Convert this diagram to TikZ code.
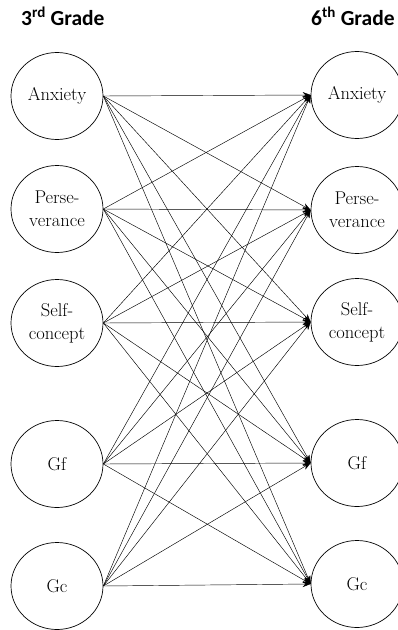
\documentclass[tikz,border=0pt]{standalone}
\usepackage{fontspec}
\newfontfamily\titlefont{Carlito}
\usetikzlibrary{shapes.geometric,arrows.meta}
\tikzset{
  var/.style={draw, line width=0.7pt, ellipse, minimum width=92pt, minimum height=87pt, inner sep=0pt, align=center, font=\fontsize{18.5}{23}\selectfont},
  path/.style={line width=0.45pt, -{Stealth[length=8pt,width=6pt]}},
  title/.style={font=\titlefont\bfseries\fontsize{21.5}{24}\selectfont, inner sep=0pt, anchor=base west}
}
\begin{document}
\begin{tikzpicture}[x=1pt,y=-1pt]
\clip (0,0) rectangle (398,630);
\node[title] (t3) at (21,25) {3\textsuperscript{rd} Grade};
\node[title] (t6) at (311,25) {6\textsuperscript{th} Grade};
\node[var] (L1) at (57,96) {Anxiety};
\node[var] (L2) at (57,209) {Perse-\\verance};
\node[var] (L3) at (57,323) {Self-\\concept};
\node[var] (L4) at (57,464) {Gf};
\node[var] (L5) at (57,586) {Gc};
\node[var] (R1) at (357,95) {Anxiety};
\node[var] (R2) at (357,210) {Perse-\\verance};
\node[var] (R3) at (357,322) {Self-\\concept};
\node[var] (R4) at (357,463) {Gf};
\node[var] (R5) at (357,584) {Gc};
\foreach \i in {1,...,5}{
  \foreach \j in {1,...,5}{
    \draw[path] (L\i.east) -- (R\j.west);
  }
}
\end{tikzpicture}
\end{document}
